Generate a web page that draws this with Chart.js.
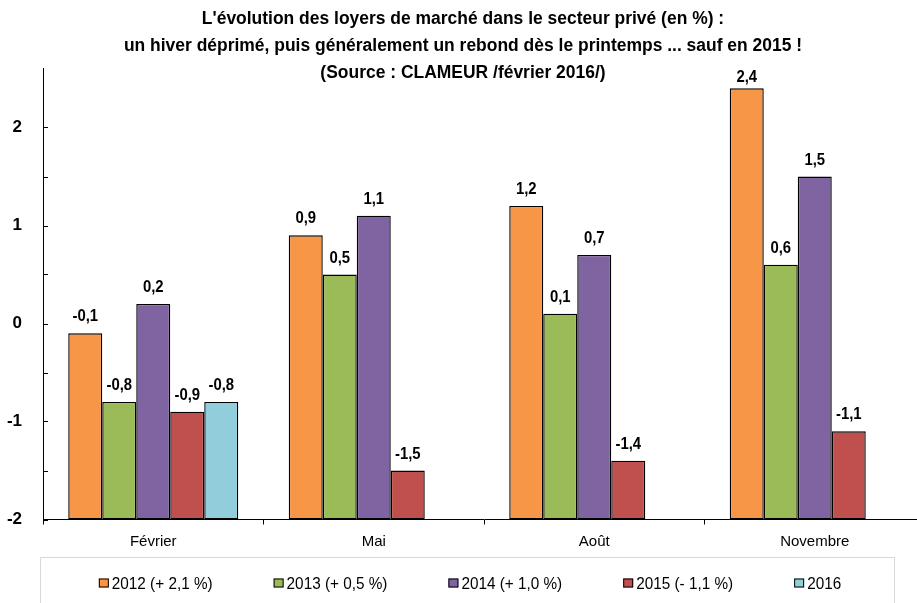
<!DOCTYPE html>
<html>
<head>
<meta charset="utf-8">
<script src="https://cdn.jsdelivr.net/npm/chart.js@4.4.1/dist/chart.umd.min.js"></script>
<style>
  html, body { margin: 0; padding: 0; background: #ffffff; overflow: hidden; width: 917px; height: 603px; }
  #wrap { position: absolute; left: 0; top: 0; width: 925px; height: 603px; }
</style>
</head>
<body>
<div id="wrap"><canvas id="chart" width="925" height="603"></canvas></div>
<script>
// Categories (months of the measurement)
const months = ['Février', 'Mai', 'Août', 'Novembre'];

// One series per year, in % change
const v2012 = [-0.1, 0.9, 1.2, 2.4];
const v2013 = [-0.8, 0.5, 0.1, 0.6];
const v2014 = [0.2, 1.1, 0.7, 1.5];
const v2015 = [-0.9, -1.5, -1.4, -1.1];
const v2016 = [-0.8, null, null, null];

const seriesNames = ['2012 (+ 2,1 %)', '2013 (+ 0,5 %)', '2014 (+ 1,0 %)', '2015 (- 1,1 %)', '2016'];
const seriesColors = ['#F79646', '#9BBB59', '#8064A2', '#C0504D', '#92CDDC'];

// Value axis
const yMin = -2;
const yMax = 2.6;
const yLabelled = [-2, -1, 0, 1, 2];

const titleLines = [
  "L'évolution des loyers de marché dans le secteur privé (en %) :",
  "un hiver déprimé, puis généralement un rebond dès le printemps ... sauf en 2015 !",
  "(Source : CLAMEUR /février 2016/)"
];

const FONT = "'Liberation Sans', Arial, sans-serif";

const fmt = v => v.toFixed(1).replace('.', ',');

// draws text squeezed horizontally by sx (narrow face look)
function narrowText(ctx, text, x, y, font, sx, align) {
  ctx.save();
  ctx.font = font;
  ctx.textAlign = align;
  ctx.translate(x, y);
  ctx.scale(sx, 1);
  ctx.fillText(text, 0, 0);
  ctx.restore();
}

// Title, value labels, inner ticks on the value axis and the framed legend
const decorations = {
  id: 'decorations',
  afterDraw(chart) {
    const ctx = chart.ctx;
    const area = chart.chartArea;
    const y = chart.scales.y;
    ctx.save();

    // inner tick marks every 0.5 on the value axis
    ctx.strokeStyle = '#000';
    ctx.lineWidth = 1;
    y.ticks.forEach(t => {
      if (Math.abs(t.value * 2 - Math.round(t.value * 2)) > 1e-9) return;
      const py = Math.round(y.getPixelForValue(t.value)) + 0.5;
      ctx.beginPath();
      ctx.moveTo(area.left, py);
      ctx.lineTo(area.left + 5, py);
      ctx.stroke();
    });

    // title
    ctx.fillStyle = '#000';
    ctx.textBaseline = 'middle';
    titleLines.forEach((line, i) => narrowText(ctx, line, 463, 19 + i * 27, 'bold 18px ' + FONT, 0.97, 'center'));

    // value labels above each bar
    ctx.textBaseline = 'alphabetic';
    chart.data.datasets.forEach((ds, di) => {
      const meta = chart.getDatasetMeta(di);
      meta.data.forEach((bar, i) => {
        const v = ds.data[i];
        if (v === null || v === undefined) return;
        const by = Math.max(bar.y - 12, area.top + 13);
        narrowText(ctx, fmt(v), bar.x, by, 'bold 16px ' + FONT, 0.93, 'center');
      });
    });

    // legend frame and entries
    ctx.strokeStyle = '#D9D9D9';
    ctx.lineWidth = 1;
    ctx.strokeRect(40.5, 557.5, 854, 46);
    const lf = '17px ' + FONT, lsx = 0.9;
    ctx.font = lf;
    ctx.textBaseline = 'middle';
    const boxW = 10, gapBox = 3, gapItem = 61;
    const widths = seriesNames.map(n => boxW + gapBox + ctx.measureText(n).width * lsx);
    const total = widths.reduce((a, b) => a + b, 0) + gapItem * (widths.length - 1);
    let x = 470 - total / 2;
    const ly = 583;
    seriesNames.forEach((n, i) => {
      ctx.fillStyle = seriesColors[i];
      ctx.fillRect(x, ly - 4.5, boxW, 9);
      ctx.strokeStyle = '#000';
      ctx.strokeRect(x + 0.5, ly - 4, boxW - 1, 8);
      ctx.fillStyle = '#000';
      narrowText(ctx, n, x + boxW + gapBox, ly + 1, lf, lsx, 'left');
      x += widths[i] + gapItem;
    });
    ctx.restore();
  }
};

const seriesData = [v2012, v2013, v2014, v2015, v2016];

new Chart(document.getElementById('chart'), {
  type: 'bar',
  data: {
    labels: months,
    datasets: seriesData.map((d, i) => ({
      label: seriesNames[i],
      data: d,
      base: yMin,
      backgroundColor: seriesColors[i],
      borderColor: '#000',
      borderWidth: 1.4,
      borderSkipped: false,
      categoryPercentage: 0.771,
      barPercentage: 1.0
    }))
  },
  options: {
    responsive: false,
    animation: false,
    devicePixelRatio: 1,
    layout: { padding: { top: 68.7, left: 0, right: 0, bottom: 53.5 } },
    plugins: {
      legend: { display: false },
      title: { display: false },
      tooltip: { enabled: false }
    },
    scales: {
      x: {
        afterFit(s) { s.height = 30; },
        grid: { display: true, offset: true, drawOnChartArea: false, drawTicks: true, tickLength: 5, color: '#000', lineWidth: 1 },
        border: { display: true, color: '#000', width: 1 },
        ticks: { color: '#000', padding: 8, font: { family: FONT, size: 15 } }
      },
      y: {
        min: yMin,
        max: yMax,
        afterFit(s) { s.width = 43; },
        grid: { display: false, drawTicks: false },
        border: { display: true, color: '#000', width: 1 },
        ticks: {
          stepSize: 0.5,
          padding: 21,
          color: '#000',
          font: { family: FONT, size: 17, weight: 'bold' },
          callback: v => (yLabelled.includes(v) ? String(v) : '')
        }
      }
    }
  },
  plugins: [decorations]
});
</script>
</body>
</html>
